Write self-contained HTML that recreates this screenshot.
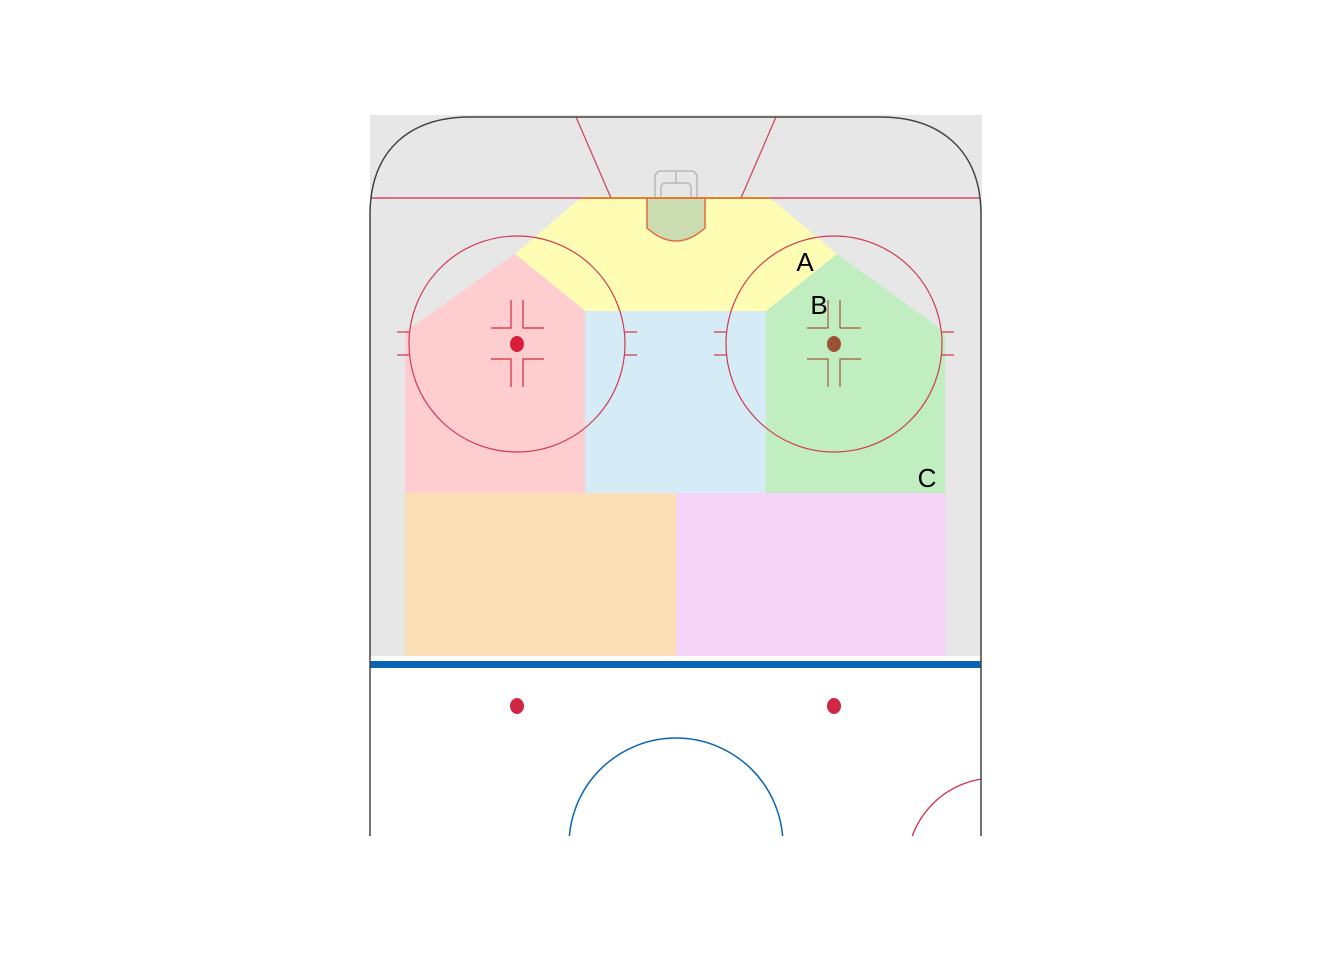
<!DOCTYPE html>
<html><head><meta charset="utf-8"><style>
html,body{margin:0;padding:0;background:#fff;width:1344px;height:960px;overflow:hidden}
svg{display:block}
text{font-family:"Liberation Sans",sans-serif}
</style></head><body>
<svg width="1344" height="960" viewBox="0 0 1344 960">
<defs><clipPath id="rk"><path d="M370,836 L370,215 C370,150 410,117 470,117 L880,117 C940,117 981,150 981,215 L981,836 Z"/></clipPath></defs>
<rect x="370" y="115" width="612" height="541" fill="#e7e7e7"/>
<g>
<polygon points="583,196 768,196 837,254 766,311 585,311 515,254" fill="#fffdb3"/>
<polygon points="515,254 585,311 585,493 405,493 405,332" fill="#fdcdd0"/>
<rect x="585" y="311" width="181" height="182" fill="#d5ebf5"/>
<polygon points="837,254 766,311 766,493 945,493 945,332" fill="#c1eec0"/>
<rect x="405" y="493" width="271" height="163" fill="#fddfb7"/>
<rect x="676" y="493" width="269" height="163" fill="#f5d3f7"/>
</g>
<rect x="370" y="656" width="611" height="5" fill="#fff"/>
<rect x="370" y="661" width="611" height="7" fill="#0a64b4"/>
<g clip-path="url(#rk)">
<line x1="370" y1="198" x2="981" y2="198" stroke="#cf4a60" stroke-width="1.5"/>
<line x1="576" y1="117" x2="611" y2="198" stroke="#cf4a60" stroke-width="1.3"/>
<line x1="776" y1="117" x2="741" y2="198" stroke="#cf4a60" stroke-width="1.3"/>
<path d="M647,198 L647,228 Q676,254 705,228 L705,198 Z" fill="#cbddb0" stroke="#e4693e" stroke-width="1.5"/>
<path d="M655,198 L655,178 Q655,171 662,171 L690,171 Q697,171 697,178 L697,198 M661,198 L661,188 Q661,183 666,183 L686,183 Q691,183 691,188 L691,198 M676,171 L676,183" fill="none" stroke="#b8b8bc" stroke-width="1.5"/>
<line x1="583" y1="198" x2="768" y2="198" stroke="#e4693e" stroke-width="1.5"/>
<g fill="none" stroke="#d23a52" stroke-width="1.2">
<circle cx="517" cy="344" r="108"/><circle cx="834" cy="344" r="108"/>
<path d="M397,332H409M397,355H409M625,332H637M625,355H637M714,332H726M714,355H726M942,332H954M942,355H954"/>
<path d="M511,300V328H491M523,300V328H544M511,387V359H491M523,387V359H544" stroke="#d9263f"/>
<path d="M828,300V328H807M840,300V328H861M828,387V359H807M840,387V359H861" stroke="#a05a40"/>
</g>
<ellipse cx="517" cy="344" rx="7" ry="8" fill="#d81e3a"/>
<ellipse cx="834" cy="344" rx="7" ry="8" fill="#9c5236"/>
<ellipse cx="517" cy="706" rx="7" ry="8" fill="#d12645"/>
<ellipse cx="834" cy="706" rx="7" ry="8" fill="#d12645"/>
<circle cx="676" cy="845" r="107" fill="none" stroke="#0a64b4" stroke-width="1.5"/>
<circle cx="995" cy="866" r="88" fill="none" stroke="#d12645" stroke-width="1.3"/>
</g>
<path d="M370,836 L370,215 C370,150 410,117 470,117 L880,117 C940,117 981,150 981,215 L981,836" fill="none" stroke="#444" stroke-width="1.5"/>
<text x="805" y="271" font-size="26" text-anchor="middle">A</text>
<text x="819" y="314" font-size="26" text-anchor="middle">B</text>
<text x="927" y="487" font-size="26" text-anchor="middle">C</text>
</svg>
</body></html>
